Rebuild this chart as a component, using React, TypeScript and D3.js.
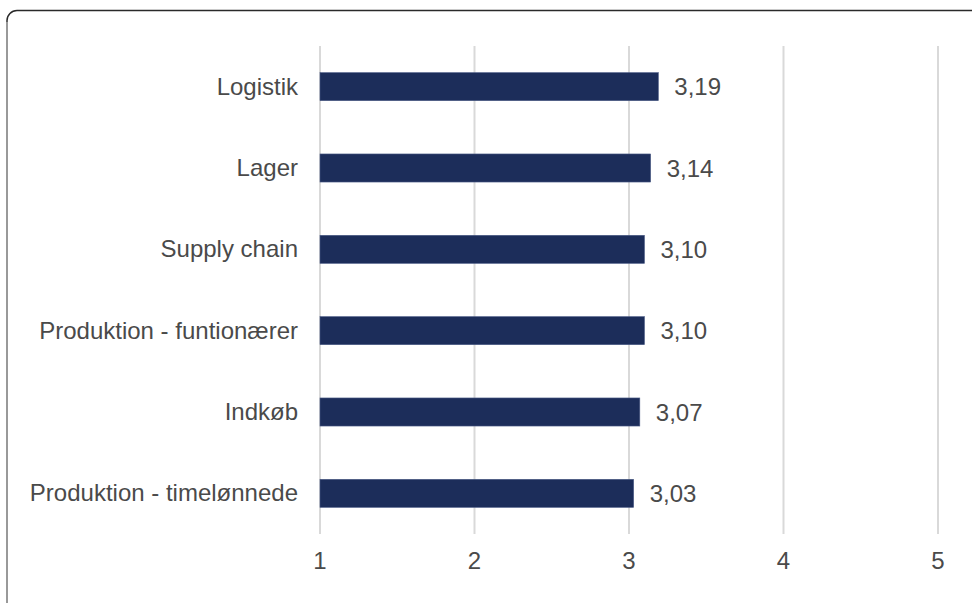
import React from "react";
import * as d3 from "d3";

const categories = [
  "Logistik",
  "Lager",
  "Supply chain",
  "Produktion - funtionærer",
  "Indkøb",
  "Produktion - timelønnede",
];
const values = [3.19, 3.14, 3.1, 3.1, 3.07, 3.03];
const valueLabels = ["3,19", "3,14", "3,10", "3,10", "3,07", "3,03"];
const ticks = [1, 2, 3, 4, 5];

const W = 972;
const H = 603;

export default function App() {
  const x = d3.scaleLinear().domain([1, 5]).range([320, 938]);
  const y = d3
    .scaleBand<string>()
    .domain(categories)
    .range([46, 534])
    .paddingInner(0.655)
    .paddingOuter(0.3275);
  const fs = 24;
  const font = "'Liberation Sans', Arial, Helvetica, sans-serif";
  const textColor = "#4a4a4a";
  return (
    <svg
      width={W}
      height={H}
      style={{ position: "absolute", left: 0, top: 0, background: "#fff" }}
      fontFamily={font}
    >
      <rect x={7} y={10.5} width={1000} height={700} rx={10} fill="#fff" stroke="#2a2a2a" strokeWidth={1.5} />
      <line x1={7} x2={7} y1={22} y2={H} stroke="#999" strokeWidth={2} />
      {ticks.map((t) => (
        <line key={"g" + t} x1={x(t)} x2={x(t)} y1={46} y2={534} stroke="#d9d9d9" strokeWidth={2} />
      ))}
      {categories.map((c, i) => {
        const yy = y(c)!;
        const bw = y.bandwidth();
        const cy = yy + bw / 2;
        return (
          <g key={c}>
            <rect x={x(1)} y={yy} width={x(values[i]) - x(1)} height={bw} fill="#1c2d5a" stroke="#4a5a85" strokeWidth={0.6} />
            <text x={298} y={cy + 8} textAnchor="end" fontSize={fs} fill={textColor}>
              {c}
            </text>
            <text x={x(values[i]) + 16} y={cy + 8.5} fontSize={fs} fill={textColor}>
              {valueLabels[i]}
            </text>
          </g>
        );
      })}
      {ticks.map((t) => (
        <text key={"t" + t} x={x(t)} y={569} textAnchor="middle" fontSize={fs} fill={textColor}>
          {t}
        </text>
      ))}
    </svg>
  );
}
